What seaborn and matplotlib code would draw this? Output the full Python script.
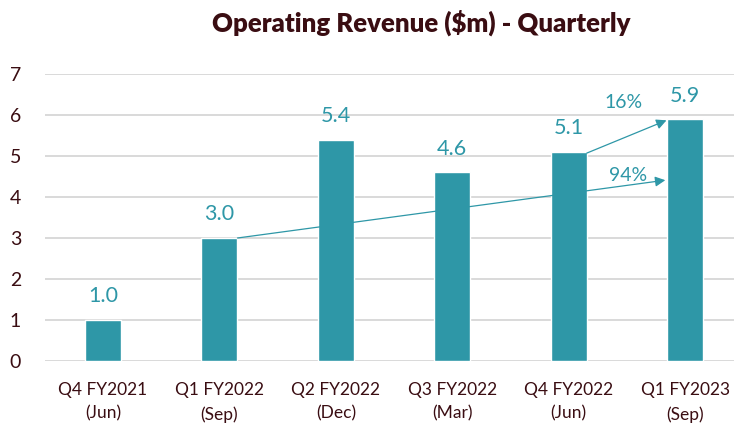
import matplotlib
matplotlib.use("Agg")
import matplotlib.pyplot as plt
import seaborn as sns
import pandas as pd

categories = ["Q4 FY2021\n(Jun)", "Q1 FY2022\n(Sep)", "Q2 FY2022\n(Dec)",
              "Q3 FY2022\n(Mar)", "Q4 FY2022\n(Jun)", "Q1 FY2023\n(Sep)"]
revenue = [1.0, 3.0, 5.4, 4.6, 5.1, 5.9]
value_labels = ["1.0", "3.0", "5.4", "4.6", "5.1", "5.9"]
growth_labels = ["94%", "16%"]
yticks = [0, 1, 2, 3, 4, 5, 6, 7]

sns.set_style("white")
plt.rcParams["font.family"] = ["Lato", "DejaVu Sans"]

teal = "#2E97A7"
dark = "#3A0D12"

df = pd.DataFrame({"cat": categories, "rev": revenue})

fig = plt.figure(figsize=(7.34, 4.26), dpi=100)
ax = fig.add_axes([44.8 / 734, 65 / 426, 1 - 44.8 / 734, (361 - 74) / 426])

sns.barplot(data=df, x="cat", y="rev", color=teal, saturation=1, width=0.31, ax=ax, zorder=3)

ax.set_ylim(0, 7)
ax.set_xlim(-0.5, 5.42)
ax.set_yticks(yticks)
ax.set_yticklabels([str(t) for t in yticks])
ax.grid(axis="y", color="#D9D9D9", linewidth=1.4, zorder=0)
ax.set_axisbelow(True)
for s in ax.spines.values():
    s.set_visible(False)
ax.set_xlabel("")
ax.set_ylabel("")
ax.tick_params(axis="y", length=0, pad=17, labelsize=14, labelcolor=dark)
ax.tick_params(axis="x", length=0, pad=15, labelsize=12.5, labelcolor=dark)
for lab in ax.get_xticklabels():
    lab.set_linespacing(1.6)

for i, (v, t) in enumerate(zip(revenue, value_labels)):
    ax.text(i, v + 0.33, t, ha="center", va="bottom", color=teal, fontsize=15.5)

# growth arrows
ax.annotate("", xy=(4.83, 4.41), xytext=(1.155, 3.0),
            arrowprops=dict(arrowstyle="-|>", color=teal, lw=0.9, mutation_scale=15,
                            shrinkA=0, shrinkB=0))
ax.annotate("", xy=(4.84, 5.87), xytext=(4.155, 5.07),
            arrowprops=dict(arrowstyle="-|>", color=teal, lw=0.9, mutation_scale=15,
                            shrinkA=0, shrinkB=0))
ax.text(4.51, 4.52, growth_labels[0], ha="center", va="center", color=teal, fontsize=14)
ax.text(4.47, 6.31, growth_labels[1], ha="center", va="center", color=teal, fontsize=14)

fig.text(421 / 734, 1 - 23 / 426, "Operating Revenue ($m) - Quarterly", ha="center", va="center",
         fontsize=18.5, fontweight="heavy", color=dark)

fig.savefig("out.png", dpi=100)
